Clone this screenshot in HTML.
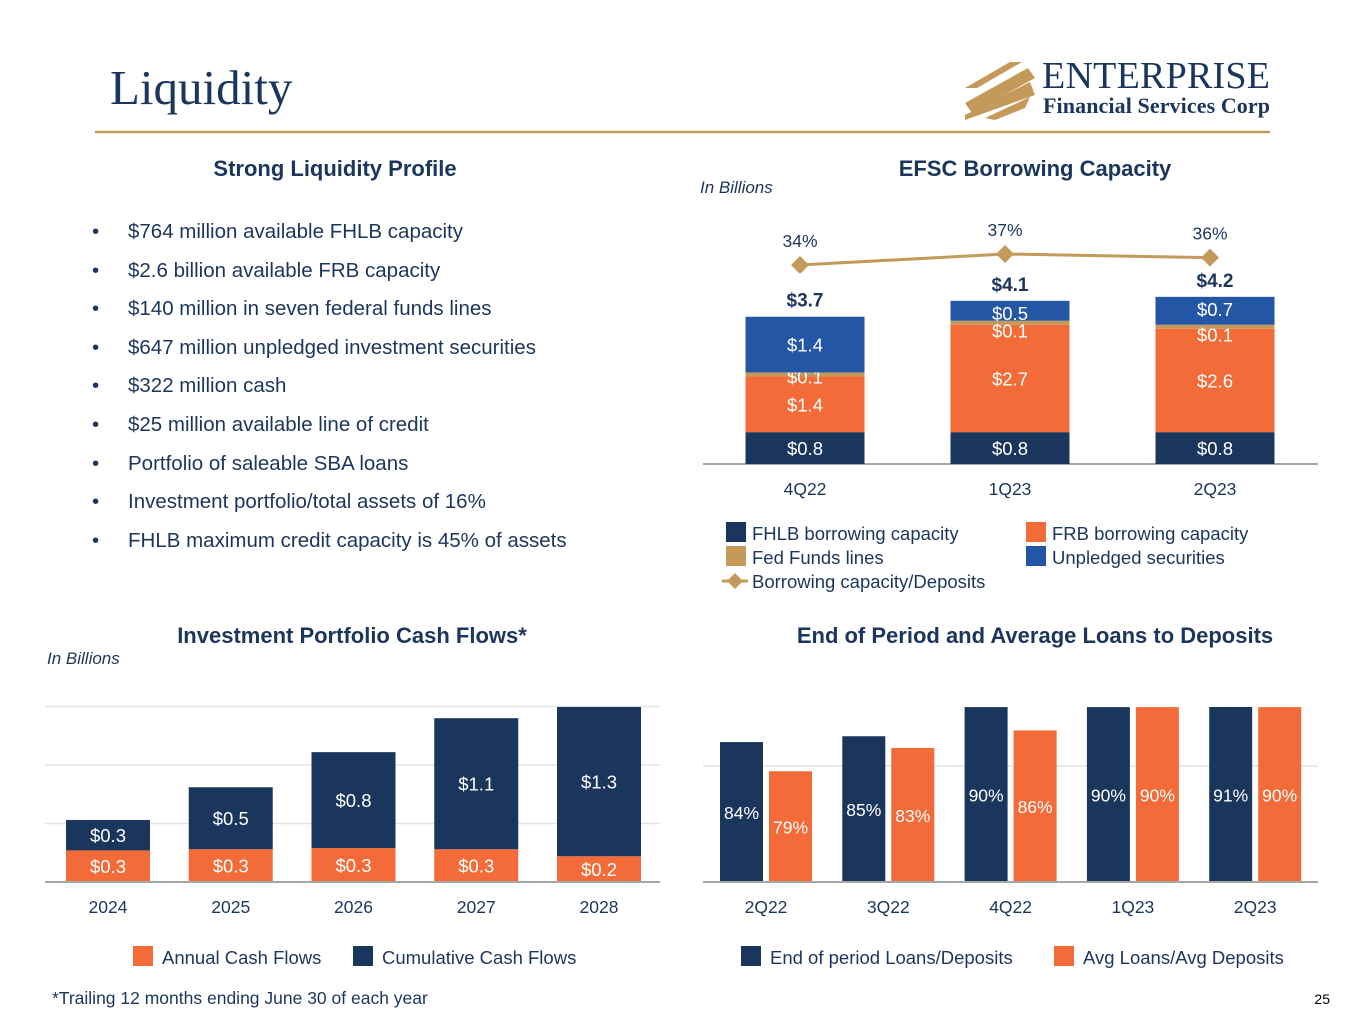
<!DOCTYPE html>
<html><head><meta charset="utf-8"><style>
html,body{margin:0;padding:0;background:#fff}
svg{display:block;font-family:"Liberation Sans",sans-serif}
</style></head><body>
<svg width="1365" height="1024" viewBox="0 0 1365 1024">
<text x="110" y="104" font-family="Liberation Serif" font-size="49" fill="#1b365d">Liquidity</text>
<g>
<polygon points="965,88 1010,62 1022,62 977,88" fill="#c49a5a"/>
<polygon points="965,103 1028,68 1035,78 972,113" fill="#c49a5a"/>
<polygon points="965,115 1030,82 1035,95 965,120" fill="#c49a5a"/>
<polygon points="985,118 1030,97 1025,108 995,120" fill="#c49a5a"/>
<text x="1042" y="88" font-family="Liberation Serif" font-size="38" fill="#1b365d" textLength="228">ENTERPRISE</text>
<text x="1043" y="113" font-family="Liberation Serif" font-size="22" font-weight="bold" fill="#1b365d" textLength="227">Financial Services Corp</text>
</g>
<line x1="95" y1="132" x2="1270" y2="132" stroke="#c49a5a" stroke-width="2.5"/>

<text x="335" y="176" text-anchor="middle" font-size="22" font-weight="bold" fill="#1b365d">Strong Liquidity Profile</text>
<g font-size="20.5" fill="#1b365d">
<text x="92" y="238">•</text><text x="128" y="238">$764 million available FHLB capacity</text>
<text x="92" y="277">•</text><text x="128" y="277">$2.6 billion available FRB capacity</text>
<text x="92" y="315">•</text><text x="128" y="315">$140 million in seven federal funds lines</text>
<text x="92" y="354">•</text><text x="128" y="354">$647 million unpledged investment securities</text>
<text x="92" y="392">•</text><text x="128" y="392">$322 million cash</text>
<text x="92" y="431">•</text><text x="128" y="431">$25 million available line of credit</text>
<text x="92" y="470">•</text><text x="128" y="470">Portfolio of saleable SBA loans</text>
<text x="92" y="508">•</text><text x="128" y="508">Investment portfolio/total assets of 16%</text>
<text x="92" y="547">•</text><text x="128" y="547">FHLB maximum credit capacity is 45% of assets</text>
</g>

<text x="1035" y="176" text-anchor="middle" font-size="22" font-weight="bold" fill="#1b365d">EFSC Borrowing Capacity</text>
<text x="700" y="193" font-size="17" font-style="italic" fill="#1b365d">In Billions</text>
<g id="bc"></g>
<g font-size="18.5" fill="#1b365d">
<rect x="726" y="522" width="20" height="20" fill="#1b365d"/><text x="752" y="540">FHLB borrowing capacity</text>
<rect x="1026" y="522" width="20" height="20" fill="#f26b38"/><text x="1052" y="540">FRB borrowing capacity</text>
<rect x="726" y="546" width="20" height="20" fill="#c49a5a"/><text x="752" y="564">Fed Funds lines</text>
<rect x="1026" y="546" width="20" height="20" fill="#2456a6"/><text x="1052" y="564">Unpledged securities</text>
<line x1="722" y1="581" x2="748" y2="581" stroke="#c49a5a" stroke-width="3"/><polygon points="735,573 743,581 735,589 727,581" fill="#c49a5a"/><text x="752" y="588">Borrowing capacity/Deposits</text>
</g>

<text x="352" y="643" text-anchor="middle" font-size="22" font-weight="bold" fill="#1b365d">Investment Portfolio Cash Flows*</text>
<text x="47" y="664" font-size="17" font-style="italic" fill="#1b365d">In Billions</text>
<g id="cf"></g>
<g font-size="18.5" fill="#1b365d">
<rect x="133" y="946" width="20" height="20" fill="#f26b38"/><text x="162" y="964">Annual Cash Flows</text>
<rect x="353" y="946" width="20" height="20" fill="#1b365d"/><text x="382" y="964">Cumulative Cash Flows</text>
</g>

<text x="1035" y="643" text-anchor="middle" font-size="22" font-weight="bold" fill="#1b365d">End of Period and Average Loans to Deposits</text>
<g id="ld"></g>
<g font-size="18.5" fill="#1b365d">
<rect x="741" y="946" width="20" height="20" fill="#1b365d"/><text x="770" y="964">End of period Loans/Deposits</text>
<rect x="1054" y="946" width="20" height="20" fill="#f26b38"/><text x="1083" y="964">Avg Loans/Avg Deposits</text>
</g>
<text x="52" y="1004" font-size="17.5" fill="#1b365d">*Trailing 12 months ending June 30 of each year</text>
<text x="1330" y="1004" text-anchor="end" font-size="14" fill="#000">25</text>
</svg>
<script>
const NS='http://www.w3.org/2000/svg';
function mk(p,t,a,txt){const e=document.createElementNS(NS,t);for(const k in a)e.setAttribute(k,a[k]);if(txt!==undefined)e.textContent=txt;p.appendChild(e);return e;}

// Borrowing capacity
const bcCats=['4Q22','1Q23','2Q23'];
const bcFHLB=[0.8,0.8,0.8];
const bcFRB=[1.4,2.7,2.6];
const bcFed=[0.1,0.1,0.1];
const bcUnpl=[1.4,0.5,0.7];
const bcTotals=['$3.7','$4.1','$4.2'];
const bcRatio=[34,37,36];
(function(){
 const g=document.getElementById('bc');
 const base=464,k=39.8,w=119,x0=805,step=205;
 const y=v=>base-v*k, cx=i=>x0+i*step;
 const ly=v=>265-(v-34)*3.67;
 mk(g,'line',{x1:703,y1:base,x2:1318,y2:base,stroke:'#a6a6a6','stroke-width':2});
 const series=[[bcFHLB,'#1b365d','fhlb'],[bcFRB,'#f26b38','frb'],[bcFed,'#c49a5a','fed-funds'],[bcUnpl,'#2456a6','unpledged']];
 bcCats.forEach((c,i)=>{
  let acc=0;
  series.forEach(([arr,col,nm],si)=>{
   const v=arr[i];const top=y(acc+v),bot=y(acc);
   const r=mk(g,'rect',{x:cx(i)-w/2,y:top,width:w,height:bot-top,fill:col});
   
   
   let ty=(top+bot)/2+7;
   if(nm==='fed-funds') ty=(i===0)?(top+bot)/2+9:top+17;
   if(nm==='unpledged'&&i>0) ty=top+19;
   const t=mk(g,'text',{x:cx(i),y:ty,'text-anchor':'middle','font-size':18.5,fill:'#fff'},'$'+v.toFixed(1));
   
   
   acc+=v;
  });
  const tt=mk(g,'text',{x:cx(i),y:y(acc)-10,'text-anchor':'middle','font-size':19,'font-weight':'bold',fill:'#1b365d'},bcTotals[i]);
  
  
  const xl=mk(g,'text',{x:cx(i),y:495,'text-anchor':'middle','font-size':17.5,fill:'#1b365d'},c);
  
  
 });
 const pts=bcRatio.map((v,i)=>cx(i)-5+','+ly(v)).join(' ');
 const pl=mk(g,'polyline',{points:pts,fill:'none',stroke:'#c49a5a','stroke-width':3});
 
 
 bcRatio.forEach((v,i)=>{
  const X=cx(i)-5,Y=ly(v);
  const d=mk(g,'polygon',{points:`${X},${Y-9} ${X+9},${Y} ${X},${Y+9} ${X-9},${Y}`,fill:'#c49a5a'});
  
  
  const t=mk(g,'text',{x:X,y:Y-18,'text-anchor':'middle','font-size':17.5,fill:'#1b365d'},v+'%');
  
  
 });
})();

// Cash flows
const cfCats=['2024','2025','2026','2027','2028'];
const cfAnnual=[0.27,0.28,0.29,0.28,0.22];
const cfCumul=[0.26,0.53,0.82,1.12,1.28];
(function(){
 const g=document.getElementById('cf');
 const base=882,k=117,w=84,x0=108,step=122.75;
 const y=v=>Math.max(707,base-v*k), cx=i=>x0+i*step;
 [0.5,1.0,1.5].forEach(v=>mk(g,'line',{x1:45,y1:base-v*k,x2:660,y2:base-v*k,stroke:'#e3e3e3','stroke-width':1.5}));
 cfCats.forEach((c,i)=>{
  const a=cfAnnual[i],b=cfCumul[i];
  const r1=mk(g,'rect',{x:cx(i)-w/2,y:y(a),width:w,height:base-y(a),fill:'#f26b38'});
  
  
  const r2=mk(g,'rect',{x:cx(i)-w/2,y:y(a+b),width:w,height:y(a)-y(a+b),fill:'#1b365d'});
  
  
  const t1=mk(g,'text',{x:cx(i),y:(y(a)+base)/2+7,'text-anchor':'middle','font-size':18.5,fill:'#fff'},'$'+a.toFixed(1));
  
  
  const t2=mk(g,'text',{x:cx(i),y:(y(a)+y(a+b))/2+7,'text-anchor':'middle','font-size':18.5,fill:'#fff'},'$'+b.toFixed(1));
  
  
  const xl=mk(g,'text',{x:cx(i),y:913,'text-anchor':'middle','font-size':17.5,fill:'#1b365d'},c);
  
  
 });
 mk(g,'line',{x1:45,y1:base,x2:660,y2:base,stroke:'#a6a6a6','stroke-width':2});
})();

// Loans to deposits
const ldCats=['2Q22','3Q22','4Q22','1Q23','2Q23'];
const ldEnd=[84,85,90,90,91];
const ldAvg=[79,83,86,90,90];
(function(){
 const g=document.getElementById('ld');
 const base=882,k=5.83,min=60,w=43,x0=766,step=122.3;
 const y=v=>Math.max(707,base-(v-min)*k), cx=i=>x0+i*step;
 mk(g,'line',{x1:703,y1:766,x2:1318,y2:766,stroke:'#e3e3e3','stroke-width':1.5});
 ldCats.forEach((c,i)=>{
  [[ldEnd[i],'#1b365d',-46,'end'],[ldAvg[i],'#f26b38',3,'avg']].forEach(([v,col,off,nm])=>{
   const r=mk(g,'rect',{x:cx(i)+off,y:y(v),width:w,height:base-y(v),fill:col});
   
   
   const t=mk(g,'text',{x:cx(i)+off+w/2,y:(y(v)+base)/2+7,'text-anchor':'middle','font-size':17.5,fill:'#fff'},v+'%');
   
   
  });
  const xl=mk(g,'text',{x:cx(i),y:913,'text-anchor':'middle','font-size':17.5,fill:'#1b365d'},c);
  
  
 });
 mk(g,'line',{x1:703,y1:base,x2:1318,y2:base,stroke:'#a6a6a6','stroke-width':2});
})();
</script>
</body></html>
